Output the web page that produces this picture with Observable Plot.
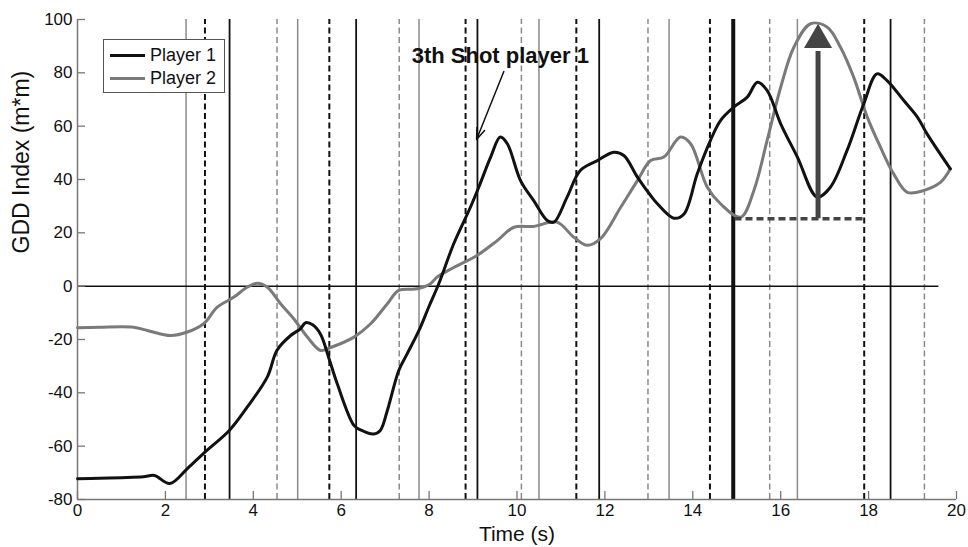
<!DOCTYPE html>
<html>
<head>
<meta charset="utf-8">
<script src="https://cdn.jsdelivr.net/npm/d3@7"></script>
<script src="https://cdn.jsdelivr.net/npm/@observablehq/plot@0.6"></script>
<style>
  body { margin: 0; background: #fff; }
  #wrap { position: relative; width: 968px; height: 547px; font-family: "Liberation Sans", Arial, sans-serif; }
  #legend { position: absolute; left: 103px; top: 39px; width: 120px; height: 52px; border: 1.5px solid #555; background: #fff; }
  .lg-row { position: absolute; left: 0; height: 20px; display: flex; align-items: center; font-size: 18px; color: #111; }
  .lg-sw { width: 35px; height: 0; border-top: 3px solid; margin-left: 6px; margin-right: 5px; }
</style>
</head>
<body>
<div id="wrap"><div id="legend"></div></div>
<script>
// ---- data ----
const p1Time = [0, 0.5, 1.0, 1.5, 1.75, 2.1, 2.5, 2.9, 3.46, 3.86, 4.32, 4.54, 4.85, 5.07, 5.19, 5.35, 5.53, 5.72, 5.91, 6.29, 6.44, 6.74, 6.89, 7.05, 7.31, 7.5, 7.77, 7.99, 8.22, 8.56, 8.94, 9.13, 9.4, 9.62, 9.78, 10.08, 10.38, 10.69, 10.84, 11.14, 11.44, 11.83, 12.2, 12.43, 12.74, 13.04, 13.19, 13.57, 13.8, 14.1, 14.4, 14.63, 14.93, 15.24, 15.47, 15.69, 16.0, 16.38, 16.83, 17.13, 17.51, 17.89, 18.19, 18.42, 18.8, 19.11, 19.33, 19.86];
const p1Gdd  = [-72.2, -72, -71.8, -71.5, -71, -74, -68.4, -62.2, -54, -45.4, -34, -24, -18.5, -16, -13.7, -14.5, -18, -27, -36.6, -52.2, -53.9, -55.4, -54.1, -46.6, -31.6, -25.4, -16.6, -7.9, 0.9, 15.9, 29.6, 37.1, 48.4, 55.9, 53.4, 39.6, 32.1, 24.6, 24, 33.4, 43.4, 47.1, 50.2, 49, 40.9, 34, 31, 25.5, 27.1, 42.1, 54.6, 62.1, 67.1, 70.9, 76.5, 73.4, 60.9, 48.4, 33.4, 37.1, 50.9, 68.4, 79.6, 77.1, 69.6, 63.4, 57.1, 44];
const p2Time = [0, 0.5, 1.28, 1.59, 2.12, 2.5, 2.87, 3.18, 3.56, 3.86, 4.09, 4.32, 4.62, 4.92, 5.23, 5.53, 5.76, 6.29, 6.67, 7.05, 7.31, 7.73, 8.03, 8.18, 8.56, 9.09, 9.55, 9.93, 10.38, 10.91, 11.29, 11.6, 11.9, 12.36, 12.74, 13.04, 13.34, 13.72, 13.95, 14.33, 14.63, 15.09, 15.39, 15.69, 16.0, 16.3, 16.68, 17.06, 17.36, 17.66, 17.97, 18.27, 18.57, 18.88, 19.26, 19.64, 19.86];
const p2Gdd  = [-15.6, -15.4, -15.4, -16.6, -18.5, -17.2, -14.1, -7.9, -4.1, -0.4, 1.1, -0.4, -6.6, -12.2, -19.1, -24.1, -23, -19.1, -14.1, -6.6, -1.6, -1.0, 0.9, 3.4, 7, 11.5, 17.1, 22.1, 22.4, 24, 18.4, 15.3, 17.8, 29.6, 39.6, 47.1, 48.4, 55.9, 53.4, 37.1, 30.9, 25.9, 35.9, 54.6, 74.6, 89.6, 98.4, 97.1, 89.6, 78.4, 63.4, 52.1, 42.1, 35.2, 35.9, 39, 44];

// shot event times (s)
const grayShotsSolid   = [2.47, 5.01, 7.77, 10.50, 13.46, 16.38];
const blackShotsDashed = [2.90, 5.73, 8.83, 11.35, 14.39, 17.90];
const blackShotsSolid  = [3.46, 6.34, 9.10, 11.87, 18.50];
const thickShot        = [14.92];
const grayShotsDashed  = [4.54, 7.32, 10.10, 12.98, 15.75, 19.27];

const xTicks = [0, 2, 4, 6, 8, 10, 12, 14, 16, 18, 20];
const yTicks = [-80, -60, -40, -20, 0, 20, 40, 60, 80, 100];
const zeroLineEnd = 19.6;

// annotations
const annotLabel = [{x: 9.62, y: 86.5, text: "3th Shot player 1"}];
const annotArrow = [{x1: 9.70, y1: 80.5, x2: 9.08, y2: 55.0}];
const gapArrow   = [{x: 16.85, y1: 25.3, y2: 88, head: 92.3}];
const gapBase    = [{x1: 14.96, x2: 17.88, y: 25.3}];

const seriesNames = ["Player 1", "Player 2"];
const seriesColors = ["#111111", "#7a7a7a"];

const p1 = p1Time.map((t, i) => ({t, v: p1Gdd[i]}));
const p2 = p2Time.map((t, i) => ({t, v: p2Gdd[i]}));

const chart = Plot.plot({
  width: 968, height: 547,
  marginLeft: 77, marginRight: 12, marginTop: 19, marginBottom: 48,
  x: {domain: [0, 20]},
  y: {domain: [-80, 100]},
  style: {fontFamily: "'Liberation Sans', Arial, sans-serif", fontSize: "17px", color: "#111", background: "transparent"},
  marks: [
    // shot lines
    Plot.ruleX(grayShotsSolid, {x: d => d, y1: -80, y2: 100, stroke: "#8a8a8a", strokeWidth: 1.5}),
    Plot.ruleX(grayShotsDashed, {x: d => d, y1: -80, y2: 100, stroke: "#8a8a8a", strokeWidth: 1.5, strokeDasharray: "6,3.5"}),
    Plot.ruleX(blackShotsDashed, {x: d => d, y1: -80, y2: 100, stroke: "#111", strokeWidth: 2, strokeDasharray: "6,3.5"}),
    Plot.ruleX(blackShotsSolid, {x: d => d, y1: -80, y2: 100, stroke: "#111", strokeWidth: 1.8}),
    Plot.ruleX(thickShot, {x: d => d, y1: -80, y2: 100, stroke: "#111", strokeWidth: 4}),
    // zero line
    Plot.ruleY([0], {x1: 0, x2: zeroLineEnd, stroke: "#111", strokeWidth: 1.5}),
    // axes lines and inward ticks
    Plot.ruleX([0], {y1: -80, y2: 100, stroke: "#777", strokeWidth: 1.5}),
    Plot.ruleY([-80], {x1: 0, x2: 20, stroke: "#777", strokeWidth: 1.5}),
    Plot.ruleX(xTicks, {x: d => d, y1: -80, y2: -80, insetTop: -8, stroke: "#777", strokeWidth: 1.3}),
    Plot.ruleY(yTicks, {y: d => d, x1: 0, x2: 0, insetRight: -8, stroke: "#777", strokeWidth: 1.3}),
    Plot.axisX(xTicks, {tickSize: 0, tickPadding: 4, label: null, fontSize: 17, tickFormat: d => String(d)}),
    Plot.axisY(yTicks, {tickSize: 0, tickPadding: 5, label: null, fontSize: 17, tickFormat: d => String(d)}),
    Plot.text(["Time (s)"], {frameAnchor: "bottom", dy: 41, fontSize: 21, fill: "#111"}),
    Plot.text(["GDD Index (m*m)"], {frameAnchor: "left", dx: -56, dy: -6, rotate: -90, fontSize: 23, fill: "#111"}),
    // curves
    Plot.line(p2, {x: "t", y: "v", stroke: seriesColors[1], strokeWidth: 3, curve: "catmull-rom"}),
    Plot.line(p1, {x: "t", y: "v", stroke: seriesColors[0], strokeWidth: 3, curve: "catmull-rom"}),
    // gap annotation
    Plot.ruleY(gapBase, {x1: "x1", x2: "x2", y: "y", stroke: "#444", strokeWidth: 3.5, strokeDasharray: "7,4"}),
    Plot.ruleX(gapArrow, {x: "x", y1: "y1", y2: "y2", stroke: "#444", strokeWidth: 5}),
    Plot.dot(gapArrow, {x: "x", y: "head", symbol: "triangle", r: 10.4, fill: "#444", stroke: "none"}),
    // shot label
    Plot.arrow(annotArrow, {x1: "x1", y1: "y1", x2: "x2", y2: "y2", stroke: "#111", strokeWidth: 1.5, headLength: 12, headAngle: 40}),
    Plot.text(annotLabel, {x: "x", y: "y", text: "text", fontWeight: "bold", fontSize: 22, fill: "#111"})
  ]
});
document.getElementById("wrap").prepend(chart);
chart.style.position = "absolute"; chart.style.left = "0"; chart.style.top = "0";

// legend
const legend = document.getElementById("legend");
seriesNames.forEach((name, i) => {
  const row = document.createElement("div");
  row.className = "lg-row";
  row.style.top = (5 + i * 23) + "px";
  const sw = document.createElement("div");
  sw.className = "lg-sw";
  sw.style.borderTopColor = seriesColors[i];
  const label = document.createElement("span");
  label.textContent = name;
  row.append(sw, label);
  legend.append(row);
});
</script>
</body>
</html>
